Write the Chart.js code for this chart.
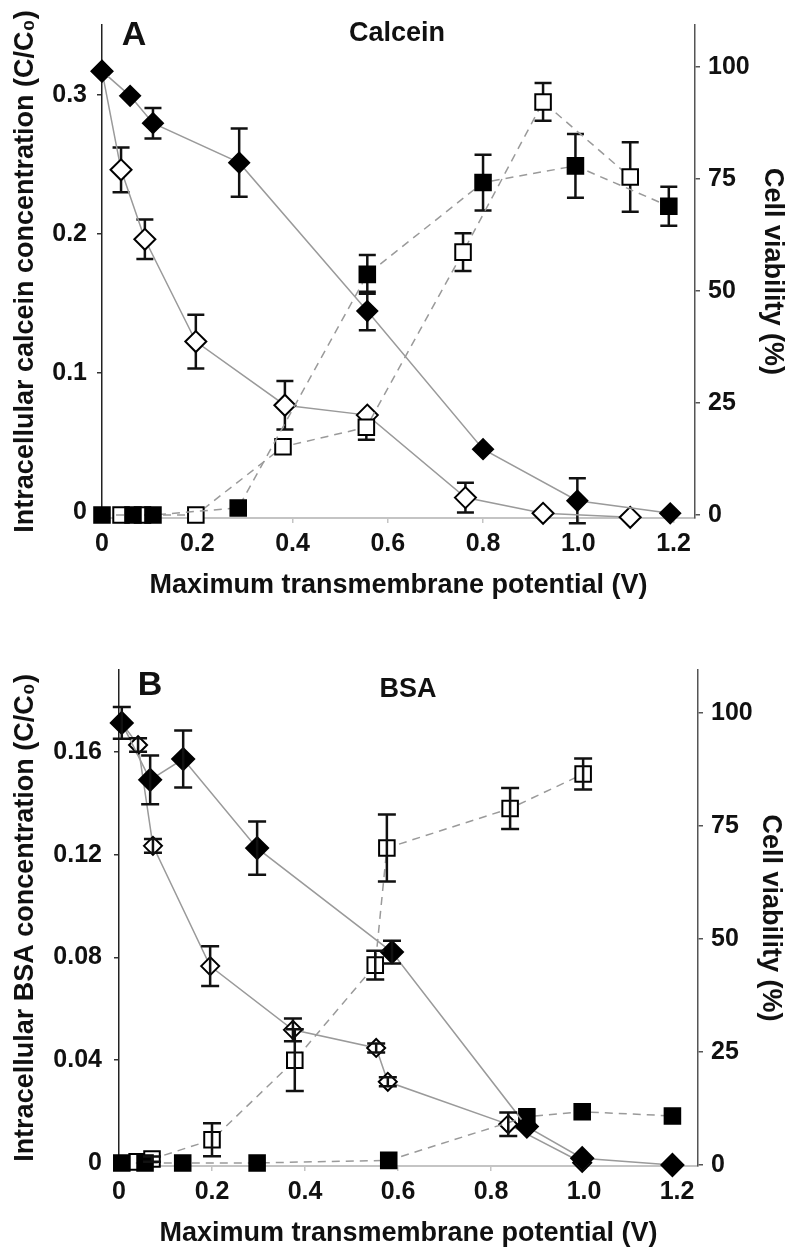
<!DOCTYPE html>
<html>
<head>
<meta charset="utf-8">
<script src="https://cdn.jsdelivr.net/npm/chart.js@4.4.1/dist/chart.umd.min.js"></script>
<style>
  body { margin: 0; background: #fff; }
  #wrap { position: relative; width: 800px; height: 1258px; }
  canvas { position: absolute; left: 0; }
</style>
</head>
<body>
<div id="wrap">
  <canvas id="chartA" width="800" height="610" style="top:0;width:800px;height:610px"></canvas>
  <canvas id="chartB" width="800" height="648" style="top:610px;width:800px;height:648px"></canvas>
</div>
<script>
// ---- ticks shared by both panels ----
var xTickValues = [0, 0.2, 0.4, 0.6, 0.8, 1.0, 1.2];
var xTickLabels = ['0', '0.2', '0.4', '0.6', '0.8', '1.0', '1.2'];
var viabTickValues = [0, 25, 50, 75, 100];
var viabTickLabels = ['0', '25', '50', '75', '100'];

// ---- panel A : calcein ----
var calceinTickValues = [0, 0.1, 0.2, 0.3];
var calceinTickLabels = ['0', '0.1', '0.2', '0.3'];

// filled diamonds (viability, right axis)
var aViabFilledX   = [0, 0.059, 0.107, 0.288, 0.557, 0.80, 0.998, 1.193];
var aViabFilledY   = [99, 93.5, 87.4, 78.6, 45.5, 14.7, 3.2, 0.4];
var aViabFilledErr = [0, 0, 3.4, 7.6, 4.3, 0, 5, 0];
// open diamonds (viability, right axis)
var aViabOpenX   = [0, 0.04, 0.09, 0.197, 0.384, 0.557, 0.763, 0.926, 1.109];
var aViabOpenY   = [99, 77, 61.5, 38.7, 24.5, 22.3, 3.9, 0.4, -0.5];
var aViabOpenErr = [0, 5, 4.4, 6, 5.4, 0, 3.3, 0, 0];
// filled squares (uptake, left axis)
var aUptakeFilledX   = [0, 0.065, 0.107, 0.286, 0.557, 0.80, 0.994, 1.19];
var aUptakeFilledY   = [-0.002, -0.002, -0.002, 0.003, 0.171, 0.237, 0.249, 0.22];
var aUptakeFilledErr = [0, 0, 0, 0, 0.014, 0.02, 0.023, 0.014];
// open squares (uptake, left axis)
var aUptakeOpenX   = [0.04, 0.085, 0.197, 0.38, 0.555, 0.758, 0.926, 1.109];
var aUptakeOpenY   = [-0.002, -0.002, -0.002, 0.047, 0.061, 0.187, 0.295, 0.241];
var aUptakeOpenErr = [0, 0, 0, 0, 0.009, 0.0136, 0.0136, 0.025];

// ---- panel B : BSA ----
var bsaTickValues = [0, 0.04, 0.08, 0.12, 0.16];
var bsaTickLabels = ['0', '0.04', '0.08', '0.12', '0.16'];

var bViabFilledX   = [0.006, 0.067, 0.138, 0.297, 0.587, 0.877, 0.996, 1.19];
var bViabFilledY   = [97.8, 85.2, 89.8, 70.1, 47.1, 8.5, 1.5, 0];
var bViabFilledErr = [3.5, 5.4, 6.3, 5.9, 2.5, 0, 0, 0];

var bViabOpenX   = [0.006, 0.041, 0.073, 0.196, 0.374, 0.553, 0.578, 0.837, 0.996];
var bViabOpenY   = [97.8, 92.9, 70.6, 44, 29.9, 25.9, 18.4, 9, 0.5];
var bViabOpenErr = [0, 1.5, 1.5, 4.4, 2.5, 1, 1, 2.6, 0];

var bUptakeFilledX   = [0.006, 0.056, 0.137, 0.297, 0.58, 0.877, 0.996, 1.19];
var bUptakeFilledY   = [0, 0, 0, 0, 0.001, 0.018, 0.0199, 0.0183];
var bUptakeFilledErr = [0, 0, 0, 0, 0, 0, 0, 0];

var bUptakeOpenX   = [0.039, 0.071, 0.2, 0.378, 0.551, 0.576, 0.841, 0.998];
var bUptakeOpenY   = [0.0004, 0.0015, 0.009, 0.04, 0.077, 0.1226, 0.138, 0.1514];
var bUptakeOpenErr = [0, 0.001, 0.0064, 0.012, 0.0056, 0.013, 0.008, 0.006];

var FONT = '"Liberation Sans", Arial, sans-serif';
var tickFont = { family: FONT, size: 25, weight: 'bold' };
var titleFont = { family: FONT, size: 27, weight: 'bold' };

function puntos(xs, ys) {
  return xs.map(function(x, i) { return { x: x, y: ys[i] }; });
}

function serie(xs, ys, errs, eje, forma, relleno, radio, discontinua) {
  return {
    data: puntos(xs, ys),
    errors: errs,
    yAxisID: eje,
    showLine: true,
    clip: false,
    borderColor: '#9a9a9a',
    borderWidth: 1.5,
    borderDash: discontinua ? [8, 6] : [],
    pointStyle: forma,
    pointRadius: radio,
    pointHoverRadius: radio,
    pointBackgroundColor: relleno ? '#000' : '#fff',
    pointBorderColor: '#000',
    pointBorderWidth: 2
  };
}

// error bars drawn through the library scales
function dibujarErrores(chart, cap) {
  var ctx = chart.ctx;
  chart.data.datasets.forEach(function(ds, i) {
    if (!ds.errors) return;
    var meta = chart.getDatasetMeta(i);
    var sy = chart.scales[ds.yAxisID];
    ctx.save();
    ctx.strokeStyle = '#111';
    ctx.lineWidth = 2.5;
    ds.data.forEach(function(p, j) {
      var e = ds.errors[j];
      if (!e) return;
      var x = meta.data[j].x;
      var y1 = sy.getPixelForValue(p.y + e);
      var y2 = sy.getPixelForValue(p.y - e);
      ctx.beginPath();
      ctx.moveTo(x, y1); ctx.lineTo(x, y2);
      ctx.moveTo(x - cap, y1); ctx.lineTo(x + cap, y1);
      ctx.moveTo(x - cap, y2); ctx.lineTo(x + cap, y2);
      ctx.stroke();
    });
    ctx.restore();
  });
}

var errorBars = {
  id: 'errorBars',
  beforeDatasetsDraw: function(chart, args, opts) { if (!opts.front) dibujarErrores(chart, opts.cap); },
  afterDatasetsDraw: function(chart, args, opts) { if (opts.front) dibujarErrores(chart, opts.cap); }
};

var panelLabels = {
  id: 'panelLabels',
  afterDraw: function(chart, args, opts) {
    var ctx = chart.ctx;
    ctx.save();
    ctx.fillStyle = '#111';
    ctx.textAlign = 'center';
    ctx.textBaseline = 'middle';
    opts.items.forEach(function(it) {
      ctx.font = 'bold ' + it.size + 'px ' + FONT;
      ctx.fillText(it.text, it.x, it.y);
    });
    ctx.restore();
  }
};

function escalas(o) {
  return {
    x: {
      type: 'linear', min: 0, max: o.xMax,
      afterFit: function(s) { s.height = 92; },
      afterBuildTicks: function(s) { s.ticks = xTickValues.map(function(v) { return { value: v }; }); },
      ticks: { callback: function(v, i) { return xTickLabels[i]; }, font: tickFont, color: '#111', padding: 6, maxRotation: 0, autoSkip: false },
      grid: { drawOnChartArea: false, drawTicks: true, tickLength: 5, color: '#c4c4c4', lineWidth: 1.5 },
      border: { display: true, color: '#c4c4c4', width: 2 },
      title: { display: true, text: 'Maximum transmembrane potential (V)', font: titleFont, color: '#111', padding: { top: 0, bottom: 8.5 } }
    },
    yL: {
      type: 'linear', position: 'left', min: o.lMin, max: o.lMax,
      afterFit: function(s) { s.width = o.lWidth; },
      afterBuildTicks: function(s) { s.ticks = o.lTicks.map(function(v) { return { value: v }; }); },
      ticks: { callback: function(v, i) { return o.lLabels[i]; }, font: tickFont, color: '#111', padding: o.lPad, autoSkip: false },
      grid: { drawOnChartArea: false, drawTicks: true, tickLength: 5, color: '#333', lineWidth: 1.5 },
      border: { display: true, color: '#222', width: 1.5 },
      title: { display: true, text: o.lTitle, font: titleFont, color: '#111', padding: { top: o.lTitlePad, bottom: 0 } }
    },
    yR: {
      type: 'linear', position: 'right', min: o.rMin, max: o.rMax,
      afterFit: function(s) { s.width = 800 - o.rEdge; },
      afterBuildTicks: function(s) { s.ticks = viabTickValues.map(function(v) { return { value: v }; }); },
      ticks: { callback: function(v, i) { return viabTickLabels[i]; }, font: tickFont, color: '#111', padding: 8, autoSkip: false },
      grid: { drawOnChartArea: false, drawTicks: true, tickLength: 5, color: '#555', lineWidth: 1.5 },
      border: { display: true, color: '#555', width: 1.5 },
      title: { display: true, text: 'Cell viability (%)', font: titleFont, color: '#111', padding: { top: o.rTitlePad, bottom: 0 } }
    }
  };
}

// ---------- panel A ----------
new Chart(document.getElementById('chartA'), {
  type: 'scatter',
  data: {
    datasets: [
      serie(aViabFilledX, aViabFilledY, aViabFilledErr, 'yR', 'rectRot', true, 10, false),
      serie(aUptakeFilledX, aUptakeFilledY, aUptakeFilledErr, 'yL', 'rect', true, 11, true),
      serie(aUptakeOpenX, aUptakeOpenY, aUptakeOpenErr, 'yL', 'rect', false, 11, true),
      serie(aViabOpenX, aViabOpenY, aViabOpenErr, 'yR', 'rectRot', false, 10.5, false)
    ]
  },
  options: {
    responsive: false,
    animation: false,
    layout: { padding: { top: 10, bottom: 0, left: 0, right: 0 } },
    scales: escalas({
      xMax: 1.245, lMin: -0.0042, lMax: 0.3503, rMin: -0.65, rMax: 109.3,
      lWidth: 102, rEdge: 695, lPad: 10, lTitlePad: 9.5, rTitlePad: 11.5,
      lTicks: calceinTickValues, lLabels: calceinTickLabels,
      lTitle: 'Intracellular calcein concentration (C/C\u2080)'
    }),
    plugins: {
      legend: { display: false },
      tooltip: { enabled: false },
      errorBars: { front: false, cap: 8.5 },
      panelLabels: { items: [ { text: 'A', x: 134, y: 36, size: 34 }, { text: 'Calcein', x: 397, y: 34, size: 27 } ] }
    }
  },
  plugins: [errorBars, panelLabels]
});

// ---------- panel B ----------
new Chart(document.getElementById('chartB'), {
  type: 'scatter',
  data: {
    datasets: [
      serie(bViabFilledX, bViabFilledY, bViabFilledErr, 'yR', 'rectRot', true, 11, false),
      serie(bUptakeFilledX, bUptakeFilledY, bUptakeFilledErr, 'yL', 'rect', true, 11, true),
      serie(bUptakeOpenX, bUptakeOpenY, bUptakeOpenErr, 'yL', 'rect', false, 11, true),
      serie(bViabOpenX, bViabOpenY, bViabOpenErr, 'yR', 'rectRot', false, 9, false)
    ]
  },
  options: {
    responsive: false,
    animation: false,
    layout: { padding: { top: 60, bottom: 0, left: 0, right: 0 } },
    scales: escalas({
      xMax: 1.245, lMin: -0.0012, lMax: 0.1919, rMin: -0.22, rMax: 109.5,
      lWidth: 119, rEdge: 698, lPad: 12, lTitlePad: 9.5, rTitlePad: 13.5,
      lTicks: bsaTickValues, lLabels: bsaTickLabels,
      lTitle: 'Intracellular BSA concentration (C/C\u2080)'
    }),
    plugins: {
      legend: { display: false },
      tooltip: { enabled: false },
      errorBars: { front: true, cap: 9 },
      panelLabels: { items: [ { text: 'B', x: 150, y: 76, size: 34 }, { text: 'BSA', x: 408, y: 80, size: 27 } ] }
    }
  },
  plugins: [errorBars, panelLabels]
});
</script>
</body>
</html>
